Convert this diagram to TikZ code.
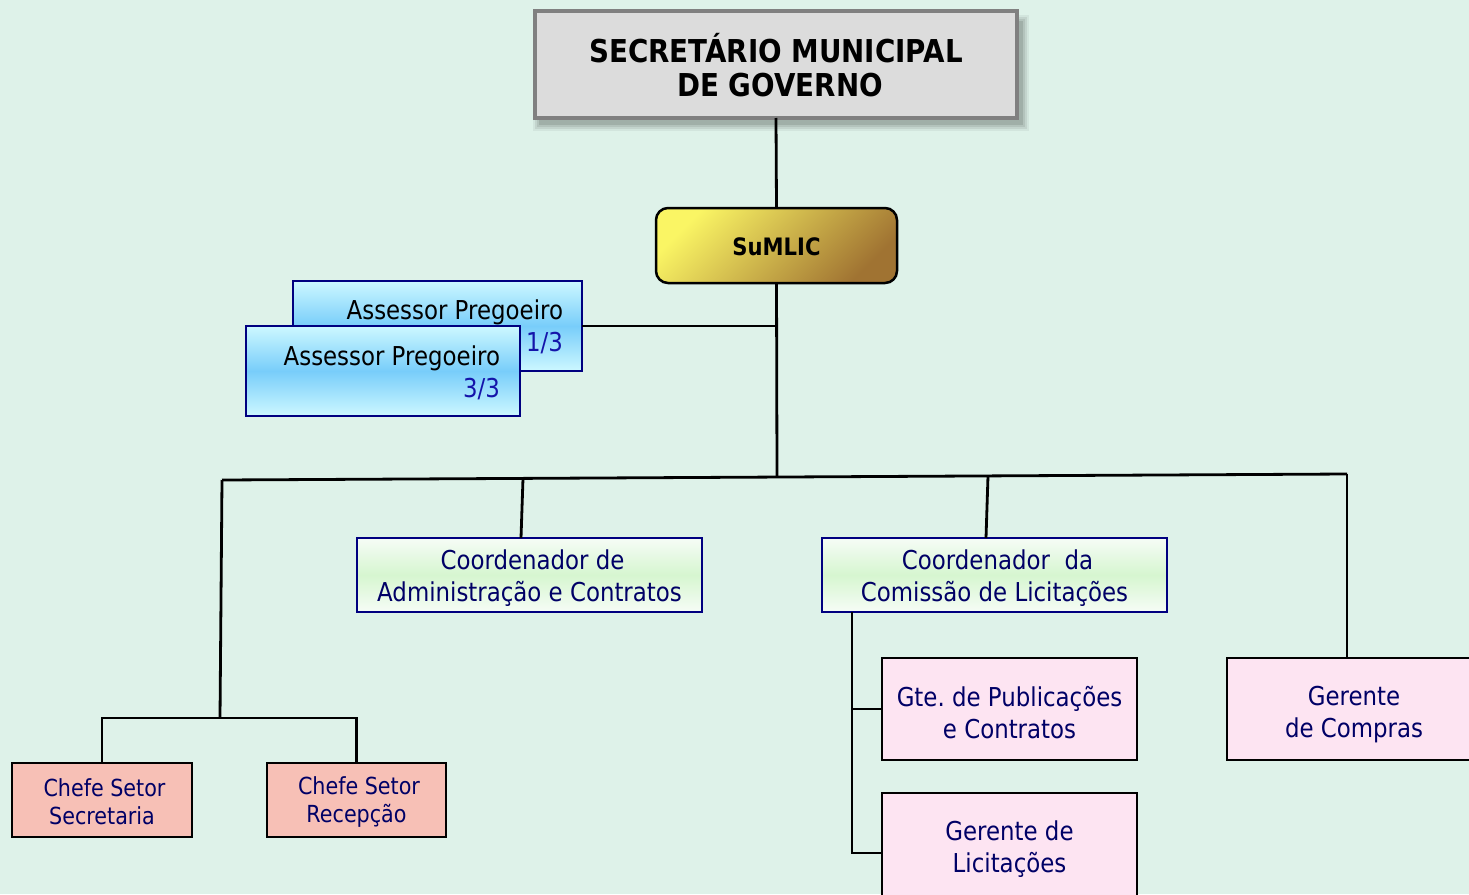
\documentclass[tikz,border=0pt]{standalone}
\usepackage{fontspec}
\setmainfont{DejaVu Sans}[FakeStretch=0.88]
\frenchspacing
\definecolor{bg}{RGB}{222,242,233}
\definecolor{titlefill}{RGB}{220,220,220}
\definecolor{titleline}{RGB}{128,128,128}
\definecolor{boxnavy}{RGB}{0,0,128}
\definecolor{txtnavy}{RGB}{0,0,102}
\definecolor{fracblue}{RGB}{20,20,170}
\definecolor{salmon}{RGB}{247,192,182}
\definecolor{pinkbox}{RGB}{253,228,242}
\definecolor{goldA}{RGB}{250,245,100}
\definecolor{goldB}{RGB}{160,115,50}
\definecolor{cyanE}{RGB}{205,248,255}
\definecolor{cyanM}{RGB}{120,205,250}
\definecolor{greenE}{RGB}{246,252,246}
\definecolor{greenM}{RGB}{214,246,208}
\tikzset{
  conn/.style={line width=2.8pt, black},
  basebox/.style={inner sep=0pt, outer sep=0pt, align=center},
  titlebox/.style={basebox, draw=titleline, fill=titlefill, line width=3.5pt},
  titletext/.style={basebox, font=\bfseries\fontsize{31.5}{35}\selectfont, text=black, yshift=-1pt},
  goldbox/.style={basebox, draw=black, line width=2.5pt, rounded corners=12pt,
    top color=goldA, bottom color=goldB, shading angle=45},
  goldtext/.style={basebox, font=\bfseries\fontsize{24}{28}\selectfont, text=black, yshift=-1.5pt},
  cyanbox/.style={basebox, draw=boxnavy, line width=2.5pt,
    top color=cyanE, bottom color=cyanE, middle color=cyanM},
  greenbox/.style={basebox, draw=boxnavy, line width=2.5pt,
    top color=greenE, bottom color=greenE, middle color=greenM},
  salmonbox/.style={basebox, draw=black, line width=2.5pt, fill=salmon},
  pinkbox/.style={basebox, draw=black, line width=2.5pt, fill=pinkbox},
  bigtext/.style={basebox, font=\fontsize{26}{32}\selectfont, text=txtnavy, yshift=-3.5pt},
  smalltext/.style={basebox, font=\fontsize{23.5}{28}\selectfont, text=txtnavy, yshift=-2pt},
  asstext/.style={inner sep=0pt, outer sep=0pt, align=right, anchor=east,
    font=\fontsize{26}{32}\selectfont, text=black},
}
\begin{document}
\begin{tikzpicture}[x=1pt,y=-1pt]
\useasboundingbox (0,0) rectangle (1469,894);
\clip (0,0) rectangle (1469,894);
\fill[bg] (0,0) rectangle (1469,894);

% title shadow
\foreach \d/\o in {7/0.05,5/0.07,3/0.08,1/0.1}{
  \fill[black,opacity=\o] (540-\d,18-\d+4) rectangle (1022+\d,124+\d);
}
\node[titlebox, minimum width=482pt, minimum height=107pt] (sec) at (776,64.5) {};
\node[titletext] (sect) at (sec) {SECRETÁRIO MUNICIPAL\\[-1pt]\hspace*{8pt}DE GOVERNO};

\node[goldbox, minimum width=241pt, minimum height=75pt] (sum) at (776.5,245.5) {};
\node[goldtext] (sumt) at (sum) {SuMLIC};

\draw[conn] (sec.south) -- (sum.north);

% assessor boxes
\node[cyanbox, minimum width=289pt, minimum height=90pt] (ass1) at (437.5,326) {};
\node[asstext] (ass1t) at (563,327) {Assessor Pregoeiro\\\textcolor{fracblue}{1/3}};
\node[cyanbox, minimum width=274pt, minimum height=90pt] (ass2) at (383,371) {};
\node[asstext] (ass2t) at (500,373) {Assessor Pregoeiro\\\textcolor{fracblue}{3/3}};

% bus coordinates
\coordinate (trunk) at (777,477);
\coordinate (busL) at (222,480);
\coordinate (busR) at (1347,474);
\coordinate (dropA) at (523,478.4);
\coordinate (dropB) at (988,475.9);
\coordinate (subL) at (220,718);

\draw[conn] (sum.south) -- (trunk);
\draw[conn] (ass1.east) -- (ass1.east -| trunk);
\draw[conn] (busL) -- (busR);

% coordinators
\node[greenbox, minimum width=345pt, minimum height=74pt] (coordA) at (529.5,575) {};
\node[bigtext] (coordAt) at (coordA) {\hspace*{6pt}Coordenador de\\Administração e Contratos};
\node[greenbox, minimum width=345pt, minimum height=74pt] (coordB) at (994.5,575) {};
\node[bigtext] (coordBt) at (coordB) {\hspace*{6pt}Coordenador\ \ da\\Comissão de Licitações};

\draw[conn] (dropA) -- (521,538);
\draw[conn] (dropB) -- (986,538);

% left branch
\node[salmonbox, minimum width=180pt, minimum height=74pt] (sec1) at (102,800) {};
\node[smalltext] (sec1t) at (sec1) {\hspace*{5pt}Chefe Setor\\Secretaria};
\node[salmonbox, minimum width=179pt, minimum height=74pt] (rec1) at (356.5,800) {};
\node[smalltext] (rec1t) at (rec1) {\hspace*{5pt}Chefe Setor\\Recepção};
\draw[conn] (busL) -- (subL);
\draw[conn] (sec1.north) -- (sec1.north |- subL) -- (rec1.north |- subL) -- (rec1.north);

% right side
\node[pinkbox, minimum width=255pt, minimum height=102pt] (pub) at (1009.5,709) {};
\node[bigtext] (pubt) at (pub) {Gte. de Publicações\\e Contratos};
\node[pinkbox, minimum width=255pt, minimum height=106pt] (lic) at (1009.5,846) {};
\node[bigtext] (lict) at (lic) {Gerente de\\Licitações};
\node[pinkbox, minimum width=254pt, minimum height=102pt] (comp) at (1354,709) {};
\node[bigtext, yshift=-2pt] (compt) at (comp) {Gerente\\de Compras};

\coordinate (cbl) at (852,612);
\coordinate (cbot) at (852,853);
\draw[conn] (cbl) -- (cbot) -- (lic.west |- cbot);
\draw[conn] (cbl |- pub.west) -- (pub.west);
\draw[conn] (busR) -- (comp.north -| busR);
\end{tikzpicture}
\end{document}
